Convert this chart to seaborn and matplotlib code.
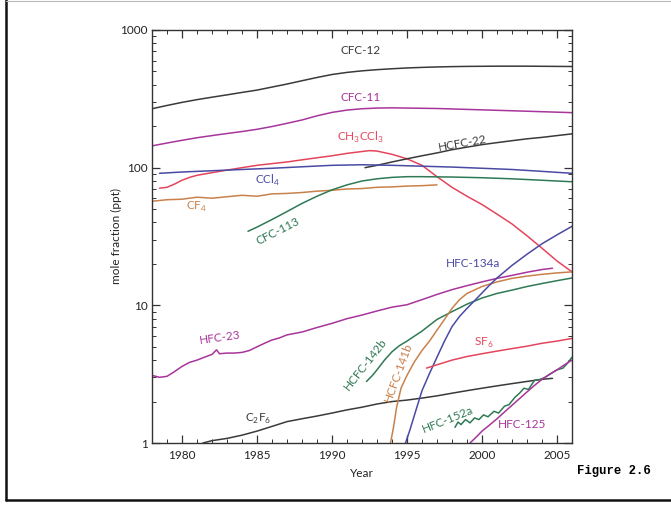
import numpy as np
import pandas as pd
import matplotlib
matplotlib.use("Agg")
import matplotlib.pyplot as plt
from matplotlib.ticker import FixedLocator, LogLocator, NullFormatter, FixedFormatter
from matplotlib.lines import Line2D
import seaborn as sns

sns.set_theme(style="white")
plt.rcParams['font.family'] = ['Lato', 'DejaVu Sans']
plt.rcParams['mathtext.fontset'] = 'custom'
plt.rcParams['mathtext.rm'] = 'Lato'

# ---------------- data ----------------
cfc12_x = [1978,1979,1980,1981,1982,1983,1984,1985,1986,1987,1988,1989,1990,1991,1992,1993,1994,1995,1996,1997,1998,1999,2000,2001,2002,2003,2004,2005,2006]
cfc12_y = [268,283,298,312,325,338,352,366,385,405,428,452,475,492,505,515,523,530,535,539,542,544,545,546,546,546,545,544,543]

cfc11_x = cfc12_x
cfc11_y = [144,151,158,165,171,177,183,190,199,210,222,238,252,262,268,271,272,271,270,269,267,265,263,261,259,257,255,253,251]

ch3ccl3_x = [1978.5,1979,1979.5,1980,1980.5,1981,1982,1983,1984,1985,1986,1987,1988,1989,1990,1991,1992,1992.5,1993,1994,1995,1996,1997,1998,1999,2000,2001,2002,2003,2004,2005,2006]
ch3ccl3_y = [71,72,76,81,85,88,92,96,100,104,107,110,114,118,122,127,131,133,132,125,116,104,86,72,62,54,46,39,32,26,21,17.5]

hcfc22_x = [1992.2,1993,1994,1995,1996,1997,1998,1999,2000,2001,2002,2003,2004,2005,2006]
hcfc22_y = [100,104,110,116,122,128,135,141,147,152,157,162,166,171,176]

ccl4_x = [1978.5,1980,1982,1984,1986,1988,1990,1992,1994,1996,1998,2000,2002,2004,2006]
ccl4_y = [91,93,95,97,99,101.5,104,105,104,102.5,101,99,97,94,91]

cf4_x = [1978,1979,1980,1981,1982,1983,1984,1985,1986,1987,1988,1989,1990,1991,1992,1993,1994,1995,1996,1997]
cf4_y = [57,58.5,59,61,60,61.5,63,62,64.5,65,66,67.5,68.5,70,70.5,72,72.5,73.5,74,75]

cfc113_x = [1984.4,1985,1986,1987,1988,1989,1990,1991,1992,1993,1994,1995,1996,1998,2000,2002,2004,2006]
cfc113_y = [34.5,37,42,48,55,62,69,75,80,83,85,86,86,85.5,84.5,83,81,79]

hfc23_x = [1978,1978.5,1979,1979.5,1980,1980.5,1981,1981.5,1982,1982.3,1982.5,1983,1983.5,1984,1984.5,1985,1985.5,1986,1986.5,1987,1988,1989,1990,1991,1992,1993,1994,1995,1996,1997,1998,1999,2000,2001,2002,2003,2004,2004.7]
hfc23_y = [3.1,3.0,3.05,3.3,3.6,3.85,4.0,4.2,4.4,4.75,4.45,4.5,4.5,4.55,4.7,5.0,5.3,5.6,5.8,6.1,6.4,6.9,7.4,8.0,8.5,9.1,9.7,10.1,11.0,12.0,13.0,13.9,14.8,15.7,16.5,17.4,18.2,18.6]

c2f6_x = [1981.4,1982,1983,1984,1985,1986,1987,1988,1989,1990,1991,1992,1993,1994,1995,1996,1997,1998,1999,2000,2001,2002,2003,2004,2004.7]
c2f6_y = [1.0,1.04,1.08,1.14,1.22,1.32,1.43,1.50,1.57,1.65,1.74,1.82,1.92,2.0,2.05,2.12,2.2,2.3,2.4,2.5,2.6,2.7,2.8,2.9,2.95]

hcfc142b_x = [1992.3,1992.7,1993,1993.5,1994,1994.5,1995,1996,1997,1998,1999,2000,2001,2002,2003,2004,2005,2006]
hcfc142b_y = [2.8,3.1,3.4,4.0,4.6,5.1,5.5,6.5,7.9,9.0,10.2,11.3,12.2,12.9,13.7,14.4,15.1,15.8]

hcfc141b_x = [1993.9,1994.1,1994.3,1994.6,1995,1995.5,1996,1996.5,1997,1997.5,1998,1998.5,1999,2000,2001,2002,2003,2004,2005,2006]
hcfc141b_y = [1.0,1.3,1.8,2.5,3.1,3.9,4.7,5.5,6.6,7.9,9.5,11.0,12.2,13.7,14.8,15.7,16.3,16.8,17.2,17.5]

hfc134a_x = [1994.9,1995.2,1995.5,1996,1996.5,1997,1997.5,1998,1998.5,1999,1999.5,2000,2000.5,2001,2002,2003,2004,2005,2006]
hfc134a_y = [1.0,1.25,1.6,2.4,3.2,4.2,5.5,7.0,8.3,9.5,10.8,12.3,14.0,15.8,19.5,23.5,28,32.5,37.5]

sf6_x = [1996.3,1997,1998,1999,2000,2001,2002,2003,2004,2005,2006]
sf6_y = [3.5,3.7,4.0,4.25,4.45,4.65,4.85,5.05,5.3,5.5,5.75]

hfc152a_x = [1998.2,1998.4,1998.6,1998.9,1999.2,1999.5,1999.8,2000.1,2000.4,2000.8,2001.1,2001.5,2001.8,2002.2,2002.5,2002.8,2003.1,2003.5,2003.9,2004.2,2004.6,2005,2005.4,2005.7,2006]
hfc152a_y = [1.3,1.42,1.36,1.48,1.4,1.52,1.48,1.6,1.55,1.7,1.65,1.85,1.9,2.15,2.3,2.5,2.45,2.85,2.9,3.0,3.2,3.4,3.5,3.8,4.2]

hfc125_x = [1999.2,1999.6,2000,2000.5,2001,2001.5,2002,2002.5,2003,2003.5,2004,2004.5,2005,2005.5,2006]
hfc125_y = [1.0,1.1,1.22,1.35,1.5,1.68,1.88,2.1,2.35,2.62,2.9,3.15,3.4,3.7,4.0]

BLACK = '#3a3a3a'
MAG = '#a7359b'
RED = '#e4455c'
BLUE = '#4a4aa3'
GREEN = '#2f7a55'
ORANGE = '#c9814b'

series = [
    ("CFC-12", cfc12_x, cfc12_y, BLACK),
    ("CFC-11", cfc11_x, cfc11_y, MAG),
    ("CH3CCl3", ch3ccl3_x, ch3ccl3_y, RED),
    ("HCFC-22", hcfc22_x, hcfc22_y, BLACK),
    ("CCl4", ccl4_x, ccl4_y, BLUE),
    ("CF4", cf4_x, cf4_y, ORANGE),
    ("CFC-113", cfc113_x, cfc113_y, GREEN),
    ("HFC-23", hfc23_x, hfc23_y, MAG),
    ("C2F6", c2f6_x, c2f6_y, BLACK),
    ("HCFC-142b", hcfc142b_x, hcfc142b_y, GREEN),
    ("HCFC-141b", hcfc141b_x, hcfc141b_y, ORANGE),
    ("HFC-134a", hfc134a_x, hfc134a_y, BLUE),
    ("SF6", sf6_x, sf6_y, RED),
    ("HFC-152a", hfc152a_x, hfc152a_y, GREEN),
    ("HFC-125", hfc125_x, hfc125_y, MAG),
]

# labels: (text, x, y, color, rotation)
labels = [
    ("CFC-12", 1991.9, 715, BLACK, 0),
    ("CFC-11", 1991.9, 326, MAG, 0),
    ("CH$_3$CCl$_3$", 1991.9, 167, RED, 0),
    ("HCFC-22", 1998.7, 151, BLACK, 10),
    ("CCl$_4$", 1985.7, 81, BLUE, 0),
    ("CF$_4$", 1981.0, 52, ORANGE, 0),
    ("CFC-113", 1986.4, 34.5, GREEN, 27),
    ("HFC-23", 1982.5, 5.8, MAG, 8),
    ("C$_2$F$_6$", 1985.1, 1.5, BLACK, 0),
    ("HCFC-142b", 1992.2, 3.75, GREEN, 52),
    ("HCFC-141b", 1994.4, 3.25, ORANGE, 70),
    ("HFC-134a", 1999.4, 20.0, BLUE, 0),
    ("SF$_6$", 2000.1, 5.3, RED, 0),
    ("HFC-152a", 1997.7, 1.47, GREEN, 22),
    ("HFC-125", 2002.7, 1.37, MAG, 0),
]

# ---------------- figure ----------------
fig = plt.figure(figsize=(6.71, 5.05), dpi=100)
ax = fig.add_axes([152/671, 1 - 443/505, 420/671, 413/505])

for name, xs, ys, col in series:
    df = pd.DataFrame({"Year": xs, "ppt": ys})
    sns.lineplot(data=df, x="Year", y="ppt", ax=ax, color=col, linewidth=1.1,
                 estimator=None, sort=False)

ax.set_yscale('log')
ax.set_xlim(1978, 2006)
ax.set_ylim(1, 1000)

ax.xaxis.set_major_locator(FixedLocator([1980, 1985, 1990, 1995, 2000, 2005]))
ax.xaxis.set_minor_locator(FixedLocator(list(range(1978, 2007))))
ax.yaxis.set_major_locator(FixedLocator([1, 10, 100, 1000]))
ax.yaxis.set_major_formatter(FixedFormatter(['1', '10', '100', '1000']))
ax.yaxis.set_minor_locator(LogLocator(base=10, subs=np.arange(2, 10)))
ax.yaxis.set_minor_formatter(NullFormatter())

ax.tick_params(which='both', direction='in', top=True, right=True, bottom=True, left=True,
               colors='#333333', labelsize=8.5, labelcolor='#222222')
ax.tick_params(axis='x', which='major', pad=5)
ax.tick_params(axis='y', which='major', pad=3)
ax.tick_params(which='major', length=6, width=0.9)
ax.tick_params(which='minor', length=3, width=0.7)
for sp in ax.spines.values():
    sp.set_color('#333333')
    sp.set_linewidth(1.0)

ax.set_xlabel("Year", fontsize=8.5, color='#222222', labelpad=5)
ax.set_ylabel("mole fraction (ppt)", fontsize=8.5, color='#222222', labelpad=-1)

for txt, x, y, col, rot in labels:
    ax.text(x, y, txt, color=col, fontsize=8.5, rotation=rot, ha='center', va='center',
            rotation_mode='anchor')

fig.text(577/671, 1 - 471/505, "Figure 2.6", family=['Liberation Mono', 'DejaVu Sans Mono'],
         fontweight='bold', fontsize=8.8, ha='left', va='center', color='black')

# outer frame
fig.add_artist(Line2D([5.5/671, 5.5/671], [1 - 500/505, 1.0], transform=fig.transFigure,
                      color='#111111', linewidth=1.8))
fig.add_artist(Line2D([5.5/671, 1.0], [1 - 500/505, 1 - 500/505], transform=fig.transFigure,
                      color='#111111', linewidth=1.8))
fig.add_artist(Line2D([5.5/671, 1.0], [1 - 0.5/505, 1 - 0.5/505], transform=fig.transFigure,
                      color='#bbbbbb', linewidth=0.8))

fig.savefig("out.png", dpi=100, facecolor='white')
